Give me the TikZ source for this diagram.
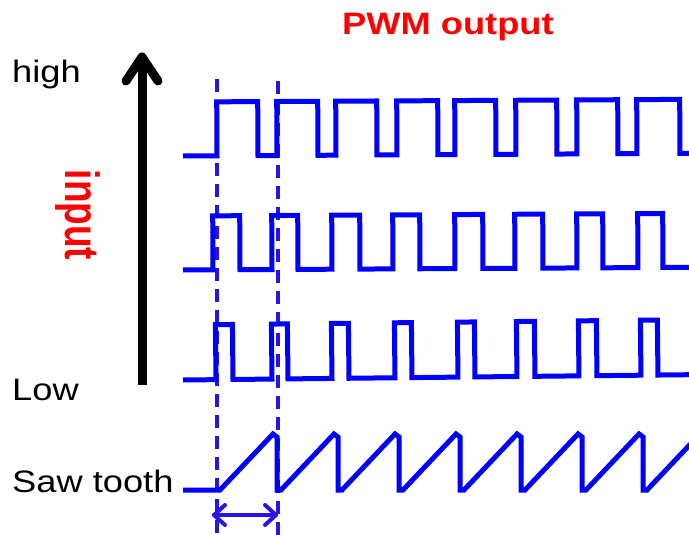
\documentclass[tikz,border=0pt]{standalone}
\usepackage{fontspec}
\usepackage{graphicx}
\setmainfont{Liberation Sans}
\usetikzlibrary{calc}
\definecolor{wblue}{RGB}{0,0,255}
\definecolor{dblue}{RGB}{40,20,230}
\definecolor{tred}{RGB}{255,0,0}
\tikzset{
  wave/.style={draw=wblue, line width=5},
  guide/.style={draw=dblue, line width=3.5, dash pattern=on 13 off 8},
  periodline/.style={draw=dblue, line width=4, line cap=round, line join=round},
  lbl/.style={inner sep=0, anchor=base west, font=\fontsize{31}{36}\selectfont},
}
\begin{document}
\begin{tikzpicture}[x=1pt,y=-1pt]
\useasboundingbox (0,0) rectangle (689,535);
\begin{scope}
\clip (0,0) rectangle (689,535);
% labels
\node[lbl] (high) at (12,83) {\scalebox{1.17}[1]{high}};
\node[lbl] (low) at (12,400) {\scalebox{1.17}[1]{Low}};
\node[lbl] (saw) at (12,492) {\scalebox{1.17}[1]{Saw tooth}};
\node[lbl, text=tred, font=\fontsize{31}{36}\selectfont\bfseries] (pwm) at (342,35) {\scalebox{1.17}[1]{PWM output}};
\node[inner sep=0, rotate=-90, text=tred, font=\fontsize{37}{40}\selectfont\bfseries] (inp) at (78,215) {\scalebox{1}[1.3]{input}};
% big arrow
\coordinate (abot) at (142,385);
\coordinate (atop) at (142,60);
\coordinate (al) at (126,81);
\coordinate (ar) at (158,81);
\coordinate (atip) at (142,57);
\draw[line width=9] (abot) -- (atop);
\draw[line width=9, line cap=round, line join=round] (al) -- (atip) -- (ar);
% guides
\coordinate (g1t) at (217,79);
\coordinate (g1b) at (217,540);
\coordinate (g2t) at (278,81);
\coordinate (g2b) at (278,540);
\draw[guide] (g1t) -- (g1b);
\draw[guide] (g2t) -- (g2b);
% period arrow
\coordinate (pa) at (214,515);
\coordinate (pb) at (276,515);
\draw[periodline] (pa) -- (pb);
\draw[periodline] ($(pa)+(11,-10)$) -- (pa) -- ($(pa)+(11,10)$);
\draw[periodline] ($(pb)+(-11,-10)$) -- (pb) -- ($(pb)+(-11,10)$);
% row 1
\begin{scope}[rotate around={0.3:(183,156)}]
\draw[wave] (183,156) foreach \r/\f in {217/258,277/318,336/377,397/438,455/496,516/557,577/618,637/680} { -- (\r,156) -- (\r,102) -- (\f,102) -- (\f,156) } -- (700,156);
\end{scope}
% row 2
\begin{scope}[rotate around={0.3:(183,270)}]
\draw[wave] (183,270) foreach \r/\f in {213/240,272/298,332/360,393/420,455/483,515/543,577/603,638/663} { -- (\r,270) -- (\r,216) -- (\f,216) -- (\f,270) } -- (700,270);
\end{scope}
% row 3
\begin{scope}[rotate around={0.6:(183,380)}]
\draw[wave] (183,380) foreach \r/\f in {216/233,272/288,332/349,395/412,458/475,517/535,579/597,641/658} { -- (\r,380) -- (\r,325) -- (\f,325) -- (\f,380) } -- (700,380);
\end{scope}
% sawtooth
\draw[wave] (183,490) foreach \d in {216,277,338,399,460,521,582,643,704} { -- (\d,490) -- (\d+4,490) -- (\d+57,434) -- (\d+61,437) -- (\d+61,490) };
\end{scope}
\end{tikzpicture}
\end{document}
